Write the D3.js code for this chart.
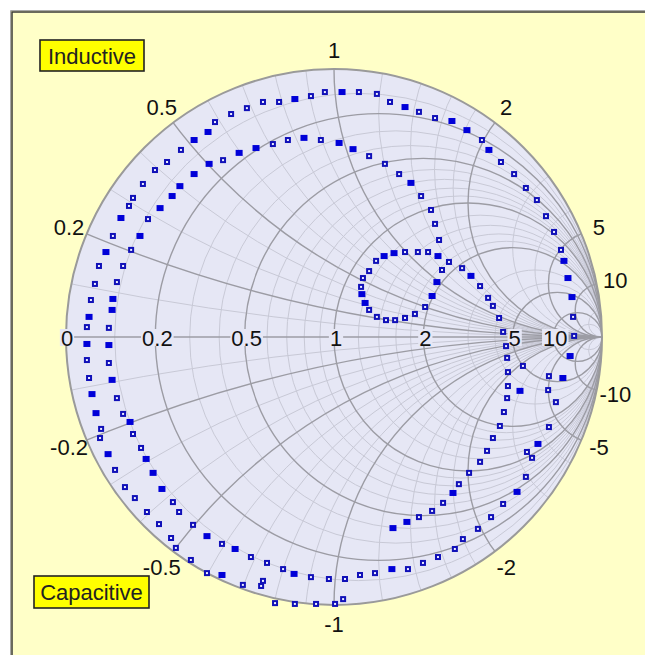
<!DOCTYPE html>
<html>
<head>
<meta charset="utf-8">
<script src="https://cdn.jsdelivr.net/npm/d3@7"></script>
<style>
  html, body { margin: 0; padding: 0; background: #fff; overflow: hidden; }
  svg { display: block; }
  svg text { font-family: "Liberation Sans", Arial, sans-serif; }
</style>
</head>
<body>
<div id="chart"></div>
<script>
// reflection coefficient points [re, im, n]; n = 2 where two samples sit on top of each other
const seriesA = [
  [-0.444, 0.802, 1], [-0.384, 0.832, 1], [-0.325, 0.854, 1], [-0.265, 0.877, 1], [-0.205, 0.877, 1],
  [-0.146, 0.888, 2], [-0.086, 0.899, 1], [-0.034, 0.914, 1], [0.030, 0.914, 2], [0.093, 0.914, 1],
  [0.160, 0.907, 1], [0.209, 0.877, 1], [0.265, 0.858, 2], [0.317, 0.840, 1], [0.377, 0.817, 1],
  [0.440, 0.806, 2], [0.496, 0.772, 2], [0.552, 0.735, 1], [0.578, 0.698, 2], [0.623, 0.653, 1],
  [0.672, 0.608, 1], [0.716, 0.556, 1], [0.757, 0.511, 1], [0.791, 0.451, 1], [0.821, 0.392, 1],
  [0.847, 0.325, 1], [0.858, 0.284, 2], [0.873, 0.220, 2], [0.888, 0.149, 2], [0.892, 0.075, 1],
  [0.896, 0.004, 1], [0.881, -0.071, 2], [0.854, -0.153, 2]
];
const seriesB = [
  [-0.470, 0.765, 2], [-0.522, 0.735, 2], [-0.571, 0.698, 1], [-0.623, 0.653, 1], [-0.668, 0.623, 1],
  [-0.713, 0.571, 1], [-0.750, 0.519, 1], [-0.765, 0.489, 1], [-0.795, 0.444, 2], [-0.825, 0.377, 1],
  [-0.851, 0.317, 2], [-0.877, 0.265, 1], [-0.892, 0.198, 1], [-0.907, 0.138, 1], [-0.914, 0.075, 2],
  [-0.922, 0.037, 1], [-0.922, -0.026, 2], [-0.922, -0.086, 1], [-0.914, -0.153, 1], [-0.903, -0.213, 2],
  [-0.888, -0.284, 2], [-0.869, -0.343, 1], [-0.873, -0.377, 1], [-0.843, -0.437, 2], [-0.817, -0.496, 1],
  [-0.780, -0.560, 1], [-0.743, -0.601, 1], [-0.698, -0.653, 1], [-0.653, -0.698, 1], [-0.608, -0.750, 1],
  [-0.590, -0.787, 1], [-0.534, -0.832, 1], [-0.474, -0.881, 1], [-0.418, -0.888, 2], [-0.340, -0.925, 1],
  [-0.272, -0.929, 1], [-0.265, -0.910, 1], [-0.220, -0.993, 1], [-0.146, -0.996, 1], [-0.067, -0.996, 1],
  [0.004, -0.996, 1], [0.034, -0.978, 1]
];
const seriesC = [
  [0.392, 0.362, 1], [0.377, 0.422, 1], [0.362, 0.474, 1], [0.325, 0.526, 1], [0.287, 0.575, 2],
  [0.243, 0.608, 1], [0.190, 0.646, 1], [0.131, 0.675, 1], [0.071, 0.701, 2], [0.019, 0.724, 2],
  [-0.049, 0.735, 1], [-0.112, 0.743, 2], [-0.172, 0.735, 1], [-0.228, 0.720, 1], [-0.291, 0.705, 2],
  [-0.354, 0.687, 2], [-0.414, 0.660, 1], [-0.466, 0.646, 2], [-0.522, 0.608, 2], [-0.575, 0.563, 2],
  [-0.604, 0.526, 2], [-0.649, 0.481, 2], [-0.694, 0.440, 1], [-0.724, 0.377, 2], [-0.757, 0.325, 1],
  [-0.787, 0.265, 1], [-0.810, 0.205, 1], [-0.825, 0.142, 2], [-0.828, 0.101, 2], [-0.840, 0.034, 1],
  [-0.840, -0.030, 2], [-0.840, -0.097, 1], [-0.828, -0.160, 2], [-0.810, -0.228, 1], [-0.787, -0.287, 1],
  [-0.761, -0.317, 2], [-0.750, -0.362, 1], [-0.720, -0.414, 1], [-0.701, -0.455, 2], [-0.675, -0.507, 2],
  [-0.642, -0.567, 2], [-0.601, -0.616, 1], [-0.578, -0.653, 1], [-0.526, -0.701, 1], [-0.474, -0.743, 2],
  [-0.418, -0.772, 1], [-0.369, -0.791, 2], [-0.310, -0.821, 1], [-0.250, -0.843, 1], [-0.190, -0.866, 1],
  [-0.149, -0.884, 2], [-0.086, -0.896, 1], [-0.019, -0.903, 1], [0.041, -0.903, 1], [0.097, -0.888, 1],
  [0.153, -0.881, 1], [0.216, -0.866, 2], [0.276, -0.866, 1], [0.332, -0.843, 1], [0.388, -0.821, 1],
  [0.451, -0.791, 1], [0.481, -0.754, 1], [0.537, -0.716, 1], [0.586, -0.672, 1], [0.631, -0.623, 1],
  [0.683, -0.578, 2], [0.716, -0.522, 1], [0.720, -0.429, 1], [0.739, -0.451, 1], [0.761, -0.399, 2],
  [0.802, -0.336, 1], [0.828, -0.243, 1], [0.799, -0.198, 1], [0.802, -0.146, 1]
];
const seriesD = [
  [0.388, 0.302, 2], [0.351, 0.317, 1], [0.313, 0.317, 1], [0.265, 0.317, 1], [0.224, 0.313, 2],
  [0.187, 0.302, 2], [0.157, 0.284, 1], [0.131, 0.246, 1], [0.108, 0.220, 1], [0.101, 0.187, 1],
  [0.104, 0.160, 2], [0.116, 0.127, 2], [0.131, 0.101, 1], [0.160, 0.075, 1], [0.194, 0.063, 1],
  [0.228, 0.063, 1], [0.265, 0.071, 1], [0.302, 0.086, 1], [0.340, 0.112, 1], [0.366, 0.153, 2],
  [0.384, 0.205, 2], [0.403, 0.250, 1], [0.429, 0.280, 1], [0.478, 0.257, 1], [0.511, 0.228, 2],
  [0.545, 0.190, 1], [0.575, 0.146, 1], [0.593, 0.116, 1], [0.616, 0.071, 1], [0.631, 0.019, 1],
  [0.642, -0.034, 1], [0.646, -0.078, 1], [0.649, -0.131, 1], [0.649, -0.183, 1], [0.646, -0.228, 1],
  [0.634, -0.280, 1], [0.619, -0.332, 1], [0.593, -0.377, 1], [0.571, -0.425, 1], [0.545, -0.466, 1],
  [0.504, -0.507, 1], [0.466, -0.549, 1], [0.444, -0.582, 2], [0.407, -0.619, 1], [0.366, -0.649, 1],
  [0.317, -0.672, 1], [0.272, -0.690, 2], [0.220, -0.713, 2]
];
const seriesE = [
  [0.705, -0.108, 1], [0.694, -0.201, 2]
];

// grid values and labels
const majorR = [0.2, 0.5, 1, 2, 5, 10];
const majorX = [0.2, 0.5, 1, 2, 5, 10];
const minorR = [0.1, 0.3, 0.4, 0.6, 0.7, 0.8, 0.9, 1.2, 1.4, 1.6, 1.8, 3, 4, 20];
const minorX = [0.1, 0.3, 0.4, 0.6, 0.7, 0.8, 0.9, 1.2, 1.4, 1.6, 1.8, 3, 4, 20];
const rLabels = ["0", "0.2", "0.5", "1", "2", "5", "10"];
const rLabelVals = [0, 0.2, 0.5, 1, 2, 5, 10];
const xLabels = ["0.2", "0.5", "1", "2", "5", "10", "-0.2", "-0.5", "-1", "-2", "-5", "-10"];
const xLabelVals = [0.2, 0.5, 1, 2, 5, 10, -0.2, -0.5, -1, -2, -5, -10];

const W = 645, H = 655;
const cx = 334, cy = 337, R = 268;
const PLOT_BG = "#e6e7f5";

const svg = d3.select("#chart").append("svg").attr("width", W).attr("height", H);

// panel: only its top and left edges fall inside the window
svg.append("rect").attr("x", 11).attr("y", 11).attr("width", W).attr("height", H).attr("fill", "#ffffc8");
svg.append("path").attr("d", `M10.5,${H}V10.5H${W}`).attr("fill", "none")
  .attr("stroke", "#a8a8a8").attr("stroke-width", 1);
svg.append("path").attr("d", `M12,${H}V12H${W}`).attr("fill", "none")
  .attr("stroke", "#3a3a3a").attr("stroke-width", 1.5);

const x = d3.scaleLinear().domain([-1, 1]).range([cx - R, cx + R]);
const y = d3.scaleLinear().domain([-1, 1]).range([cy + R, cy - R]);
const len = v => x(v) - x(0);

svg.append("clipPath").attr("id", "disk")
  .append("circle").attr("cx", x(0)).attr("cy", y(0)).attr("r", len(1));

svg.append("circle").attr("cx", x(0)).attr("cy", y(0)).attr("r", len(1)).attr("fill", PLOT_BG);

const grid = svg.append("g").attr("clip-path", "url(#disk)").attr("fill", "none");

function drawGrid(rs, xs, color, width) {
  const g = grid.append("g").attr("stroke", color).attr("stroke-width", width);
  g.selectAll("circle.r").data(rs).join("circle").attr("class", "r")
    .attr("cx", d => x(d / (1 + d))).attr("cy", y(0)).attr("r", d => len(1 / (1 + d)));
  const both = xs.flatMap(v => [v, -v]);
  g.selectAll("circle.x").data(both).join("circle").attr("class", "x")
    .attr("cx", x(1)).attr("cy", d => y(1 / d)).attr("r", d => len(1 / Math.abs(d)));
}
drawGrid(minorR, minorX, "#c8c9d6", 1);
drawGrid(majorR, majorX, "#9c9ca4", 1.4);
grid.append("line").attr("x1", x(-1)).attr("x2", x(1)).attr("y1", y(0)).attr("y2", y(0))
  .attr("stroke", "#9c9ca4").attr("stroke-width", 1.4);

svg.append("circle").attr("cx", x(0)).attr("cy", y(0)).attr("r", len(1))
  .attr("fill", "none").attr("stroke", "#9a9a9a").attr("stroke-width", 2);

// resistance labels on the real axis
const rl = svg.append("g").style("font-size", "22px").attr("fill", "#111");
rLabels.forEach((t, i) => {
  const r = rLabelVals[i];
  const px = x((r - 1) / (r + 1)) + (r === 0 ? 1 : 2);
  const txt = rl.append("text").text(t).attr("x", px).attr("y", y(0) + 9)
    .attr("text-anchor", "middle");
  const bb = txt.node().getBBox();
  rl.insert("rect", "text").attr("x", bb.x - 1).attr("y", y(0) - 8).attr("width", bb.width + 2)
    .attr("height", 17).attr("fill", PLOT_BG);
});

// reactance labels round the rim
const xl = svg.append("g").style("font-size", "22px").attr("fill", "#111");
xLabels.forEach((t, i) => {
  const v = xLabelVals[i];
  const ang = Math.atan2(2 * v, v * v - 1);
  const rr = len(1) + 19;
  xl.append("text").text(t)
    .attr("x", x(0) + rr * Math.cos(ang))
    .attr("y", y(0) - rr * Math.sin(ang) + 8)
    .attr("text-anchor", "middle");
});

// markers
const pts = [seriesA, seriesB, seriesC, seriesD, seriesE].flat();
const mk = svg.append("g");
mk.selectAll("rect.hollow").data(pts.filter(d => d[2] === 1)).join("rect").attr("class", "hollow")
  .attr("x", d => x(d[0]) - 2).attr("y", d => y(d[1]) - 2).attr("width", 4).attr("height", 4)
  .attr("fill", "#eef0ff").attr("stroke", "#1010b8").attr("stroke-width", 2);
mk.selectAll("rect.double").data(pts.filter(d => d[2] === 2)).join("rect").attr("class", "double")
  .attr("x", d => x(d[0]) - 3.5).attr("y", d => y(d[1]) - 3).attr("width", 7).attr("height", 6)
  .attr("fill", "#0000d8");

// annotation boxes
function tag(bx, by, bw, bh, label) {
  svg.append("rect").attr("x", bx).attr("y", by).attr("width", bw).attr("height", bh)
    .attr("fill", "#ffff00").attr("stroke", "#222").attr("stroke-width", 1.6);
  svg.append("text").text(label).attr("x", bx + bw / 2).attr("y", by + bh / 2 + 8)
    .attr("text-anchor", "middle").style("font-size", "22px").attr("fill", "#222");
}
tag(40, 40, 104, 31, "Inductive");
tag(34, 576, 115, 32, "Capacitive");
</script>
</body>
</html>
